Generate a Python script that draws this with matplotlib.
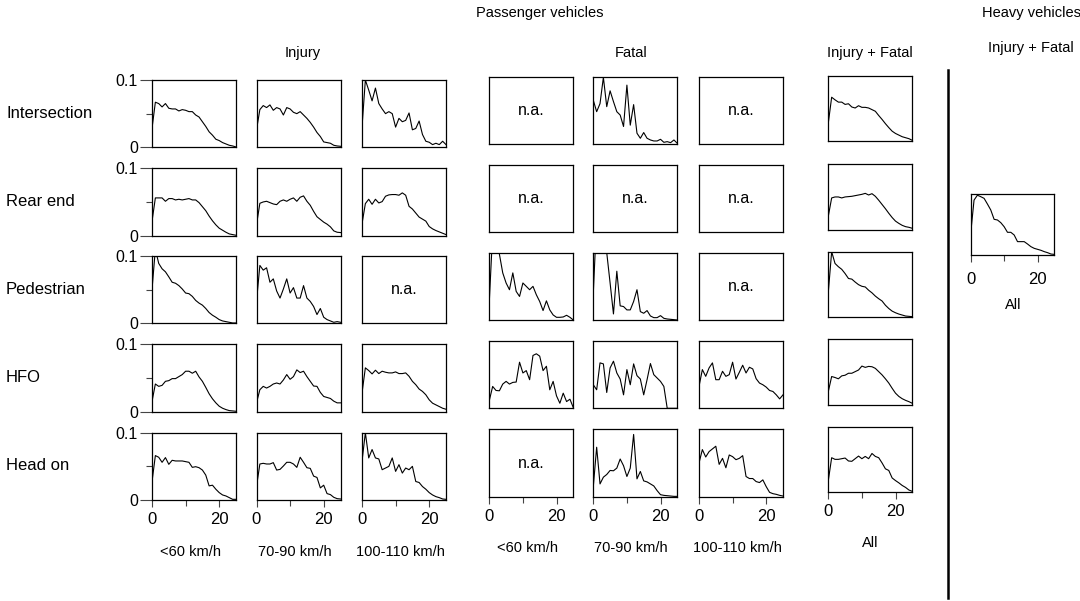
import numpy as np
import matplotlib
matplotlib.use('Agg')
import matplotlib.pyplot as plt
from matplotlib import rcParams
rcParams['font.family'] = ['Liberation Sans', 'DejaVu Sans']
rcParams['font.size'] = 10.5

# ---------------data (share per km/h bin, 0..25)
x = np.arange(26)
row_names = ['Intersection', 'Rear end', 'Pedestrian', 'HFO', 'Head on']

inj_lt60 = [
    [0.028, 0.067, 0.065, 0.060, 0.065, 0.058, 0.057, 0.057, 0.054, 0.056, 0.055, 0.053, 0.053,
     0.048, 0.045, 0.038, 0.031, 0.023, 0.018, 0.012, 0.010, 0.007, 0.005, 0.003, 0.002, 0.0005],
    [0.021, 0.056, 0.056, 0.056, 0.051, 0.055, 0.055, 0.053, 0.054, 0.053, 0.054, 0.055, 0.053,
     0.053, 0.049, 0.043, 0.037, 0.029, 0.022, 0.016, 0.011, 0.008, 0.005, 0.0025, 0.0015, 0.0005],
    [0.050, 0.110, 0.089, 0.081, 0.0765, 0.069, 0.061, 0.0595, 0.056, 0.051, 0.045, 0.044, 0.040,
     0.034, 0.030, 0.027, 0.022, 0.016, 0.012, 0.009, 0.0055, 0.0035, 0.0025, 0.0015, 0.0005, 0.0005],
    [0.015, 0.041, 0.0375, 0.039, 0.045, 0.046, 0.049, 0.049, 0.052, 0.055, 0.060, 0.060, 0.057,
     0.060, 0.0515, 0.045, 0.036, 0.0265, 0.019, 0.013, 0.008, 0.005, 0.003, 0.0015, 0.001, 0.0005],
    [0.027, 0.066, 0.0635, 0.056, 0.063, 0.053, 0.059, 0.058, 0.058, 0.058, 0.057, 0.056, 0.0485,
     0.0495, 0.048, 0.0445, 0.037, 0.021, 0.022, 0.016, 0.011, 0.0075, 0.006, 0.0035, 0.001, 0.001],
]
inj_7090 = [
    [0.026, 0.056, 0.062, 0.059, 0.063, 0.055, 0.059, 0.057, 0.048, 0.059, 0.057, 0.052, 0.050,
     0.053, 0.048, 0.043, 0.037, 0.030, 0.022, 0.016, 0.008, 0.007, 0.006, 0.003, 0.002, 0.0015],
    [0.016, 0.048, 0.050, 0.051, 0.049, 0.047, 0.046, 0.051, 0.053, 0.051, 0.054, 0.056, 0.051,
     0.057, 0.059, 0.051, 0.045, 0.036, 0.028, 0.024, 0.020, 0.017, 0.013, 0.007, 0.005, 0.0045],
    [0.0325, 0.086, 0.079, 0.0825, 0.061, 0.066, 0.048, 0.0375, 0.051, 0.066, 0.045, 0.053, 0.0375,
     0.0375, 0.056, 0.0375, 0.0325, 0.025, 0.013, 0.022, 0.009, 0.0055, 0.0035, 0.0015, 0.0025, 0.0015],
    [0.013, 0.0325, 0.0375, 0.035, 0.0375, 0.041, 0.0425, 0.041, 0.047, 0.055, 0.048, 0.052, 0.062,
     0.058, 0.060, 0.052, 0.045, 0.038, 0.0375, 0.0285, 0.0225, 0.021, 0.0195, 0.0155, 0.013, 0.013],
    [0.020, 0.0535, 0.0545, 0.0535, 0.0535, 0.0555, 0.0445, 0.0455, 0.0505, 0.056, 0.056, 0.0535, 0.0485,
     0.0635, 0.056, 0.048, 0.047, 0.0355, 0.0335, 0.018, 0.022, 0.0095, 0.008, 0.004, 0.002, 0.0015],
]
inj_100110 = [
    [0.030, 0.100, 0.085, 0.069, 0.088, 0.065, 0.057, 0.050, 0.053, 0.050, 0.030, 0.043, 0.038,
     0.040, 0.051, 0.026, 0.028, 0.039, 0.019, 0.009, 0.0075, 0.004, 0.006, 0.004, 0.009, 0.004],
    [0.0175, 0.0475, 0.054, 0.0465, 0.054, 0.0485, 0.0505, 0.0585, 0.0605, 0.061, 0.061, 0.060, 0.0635,
     0.060, 0.0435, 0.0395, 0.0335, 0.0275, 0.0245, 0.0215, 0.0135, 0.010, 0.0075, 0.0055, 0.0035, 0.0015],
    None,
    [0.0275, 0.065, 0.061, 0.056, 0.0615, 0.0565, 0.060, 0.0585, 0.0575, 0.0575, 0.059, 0.0565, 0.0565,
     0.0575, 0.0525, 0.045, 0.040, 0.0335, 0.030, 0.025, 0.0175, 0.0125, 0.010, 0.0075, 0.005, 0.0035],
    [0.0575, 0.100, 0.0625, 0.075, 0.0625, 0.061, 0.045, 0.0475, 0.050, 0.0625, 0.0425, 0.0525, 0.040,
     0.0475, 0.045, 0.050, 0.0275, 0.026, 0.020, 0.016, 0.011, 0.0075, 0.005, 0.0035, 0.0015, 0.001],
]
fat_lt60 = [
    None,
    None,
    [0.0275, 0.130, 0.120, 0.098, 0.070, 0.055, 0.045, 0.070, 0.0425, 0.035, 0.055, 0.050, 0.045,
     0.050, 0.0375, 0.0275, 0.014, 0.0285, 0.015, 0.0075, 0.004, 0.004, 0.0045, 0.007, 0.004, 0.0],
    [0.0115, 0.0325, 0.0265, 0.026, 0.036, 0.040, 0.036, 0.0385, 0.039, 0.0685, 0.0525, 0.056, 0.0425,
     0.0785, 0.081, 0.0775, 0.056, 0.0625, 0.0275, 0.040, 0.0185, 0.0075, 0.0225, 0.010, 0.0135, 0.001],
    None,
]
fat_7090 = [
    [0.065, 0.048, 0.060, 0.099, 0.0555, 0.079, 0.063, 0.048, 0.043, 0.026, 0.0875, 0.028, 0.0585,
     0.016, 0.0085, 0.017, 0.0085, 0.006, 0.0045, 0.0045, 0.007, 0.0025, 0.0035, 0.002, 0.006, 0.001],
    None,
    [0.040, 0.150, 0.140, 0.130, 0.100, 0.055, 0.009, 0.0725, 0.021, 0.020, 0.015, 0.015, 0.0275,
     0.045, 0.0125, 0.010, 0.014, 0.006, 0.0035, 0.0035, 0.0065, 0.0025, 0.0015, 0.001, 0.0005, 0.0],
    [0.035, 0.0275, 0.0675, 0.066, 0.0235, 0.060, 0.070, 0.0525, 0.0435, 0.020, 0.0575, 0.035, 0.066,
     0.0485, 0.0435, 0.020, 0.0425, 0.0665, 0.050, 0.045, 0.040, 0.0325, 0.0, 0.0, 0.0, 0.0],
    [0.015, 0.0735, 0.019, 0.029, 0.033, 0.039, 0.0385, 0.0425, 0.056, 0.046, 0.030, 0.0425, 0.0925,
     0.0265, 0.0375, 0.0235, 0.022, 0.019, 0.016, 0.009, 0.003, 0.002, 0.0015, 0.001, 0.0005, 0.0005],
]
fat_100110 = [
    None,
    None,
    None,
    [0.0325, 0.0575, 0.0475, 0.060, 0.0675, 0.0425, 0.0425, 0.055, 0.0475, 0.050, 0.0685, 0.0435, 0.0535,
     0.064, 0.0525, 0.061, 0.0585, 0.044, 0.0375, 0.035, 0.0315, 0.0265, 0.025, 0.020, 0.014, 0.020],
    [0.050, 0.070, 0.059, 0.067, 0.071, 0.075, 0.048, 0.057, 0.043, 0.062, 0.0595, 0.055, 0.057,
     0.061, 0.030, 0.027, 0.027, 0.0225, 0.021, 0.025, 0.015, 0.0065, 0.0045, 0.0035, 0.002, 0.001],
]
all_pv = [
    [0.028, 0.0675, 0.0635, 0.060, 0.060, 0.0565, 0.0575, 0.0525, 0.051, 0.0545, 0.052, 0.052, 0.051,
     0.0485, 0.046, 0.0395, 0.0335, 0.027, 0.021, 0.0155, 0.012, 0.0095, 0.007, 0.0055, 0.004, 0.0015],
    [0.0205, 0.0485, 0.050, 0.050, 0.0485, 0.050, 0.0505, 0.051, 0.052, 0.053, 0.054, 0.0555, 0.053,
     0.055, 0.051, 0.045, 0.0385, 0.032, 0.025, 0.0185, 0.013, 0.0095, 0.0065, 0.0045, 0.0035, 0.002],
    [0.038, 0.100, 0.082, 0.077, 0.073, 0.0665, 0.059, 0.058, 0.0535, 0.0495, 0.047, 0.046, 0.041,
     0.037, 0.032, 0.028, 0.0245, 0.018, 0.013, 0.009, 0.0065, 0.0045, 0.003, 0.0015, 0.001, 0.0005],
    [0.020, 0.043, 0.0415, 0.0395, 0.044, 0.045, 0.048, 0.048, 0.0505, 0.053, 0.059, 0.057, 0.0585,
     0.058, 0.0555, 0.0505, 0.0455, 0.0395, 0.033, 0.025, 0.0175, 0.0125, 0.009, 0.0065, 0.0045, 0.002],
    [0.0175, 0.0525, 0.050, 0.050, 0.051, 0.052, 0.0475, 0.047, 0.051, 0.055, 0.051, 0.0545, 0.051,
     0.059, 0.0545, 0.0525, 0.0445, 0.0355, 0.033, 0.0215, 0.0175, 0.014, 0.010, 0.007, 0.003, 0.001],
]
heavy_all = [0.0355, 0.090, 0.098, 0.0956, 0.0929, 0.0836, 0.0738, 0.0585, 0.0574, 0.053, 0.0464, 0.0372, 0.0372,
             0.0328, 0.0219, 0.0219, 0.0219, 0.018, 0.0137, 0.0109, 0.0093, 0.0077, 0.0055, 0.0038, 0.0016, 0.001]

speed_labels = ['<60 km/h', '70-90 km/h', '100-110 km/h']

# ---------------layout (pixels)
W, H = 1080, 601
fig = plt.figure(figsize=(W / 100, H / 100), dpi=100)


def box(l, t, w, h):
    return [l / W, 1 - (t + h) / H, w / W, h / H]


def ftext(px, py, s, **kw):
    fig.text(px / W, 1 - py / H, s, **kw)


def panel(l, t, w, h, ys, yaxis=False, xaxis=False, xpad=4):
    ax = fig.add_axes(box(l, t, w, h))
    ax.set_xlim(0, 25)
    ax.set_ylim(0, 0.1)
    if ys is None:
        ax.text(0.5, 0.5, 'n.a.', transform=ax.transAxes, ha='center', va='center', fontsize=11.5)
    else:
        ax.plot(x, ys, color='black', lw=0.8)
    for s in ax.spines.values():
        s.set_linewidth(0.9)
    if yaxis:
        ax.set_yticks([0, 0.1])
        ax.set_yticklabels(['0', '0.1'])
        ax.set_yticks([0.05], minor=True)
        ax.tick_params(axis='y', which='major', length=9, width=0.8, color='#444444', pad=1, labelsize=11.5)
        ax.tick_params(axis='y', which='minor', length=4, width=0.8, color='#444444')
    else:
        ax.set_yticks([])
    if xaxis:
        ax.set_xticks([0, 20])
        ax.set_xticks([10], minor=True)
        ax.tick_params(axis='x', which='major', length=5, width=0.8, color='#444444', pad=xpad, labelsize=12)
        ax.tick_params(axis='x', which='minor', length=4, width=0.8, color='#444444')
    else:
        ax.set_xticks([])
    return ax


inj_lefts = [152, 256.5, 362]
fat_lefts = [489.3, 593.3, 699]
pw = 84
inj_tops = [80, 168.3, 256, 344.3, 432.7]
fat_tops = [t - 3.3 for t in inj_tops]
all_tops = [76, 164.3, 251.7, 339.3, 426.7]

inj_cols = [inj_lt60, inj_7090, inj_100110]
fat_cols = [fat_lt60, fat_7090, fat_100110]

for r in range(5):
    last = r == 4
    for c in range(3):
        panel(inj_lefts[c], inj_tops[r], pw, 67.3, inj_cols[c][r], yaxis=(c == 0), xaxis=last)
        panel(fat_lefts[c], fat_tops[r], pw, 67.3, fat_cols[c][r], xaxis=last)
    panel(828.3, all_tops[r], pw, 65.3, all_pv[r], xaxis=last)
    ftext(6, inj_tops[r] + 33, row_names[r], ha='left', va='center', fontsize=12)

panel(970.7, 194, 83.6, 61, heavy_all, xaxis=True, xpad=7.5)

# column headings
ftext(540, 13, 'Passenger vehicles', ha='center', va='center')
ftext(1031, 13, 'Heavy vehicles', ha='center', va='center')
ftext(303, 53, 'Injury', ha='center', va='center')
ftext(631, 53, 'Fatal', ha='center', va='center')
ftext(870, 53, 'Injury + Fatal', ha='center', va='center')
ftext(1031, 48, 'Injury + Fatal', ha='center', va='center')

for c in range(3):
    ftext(inj_lefts[c] + pw / 2 - 4, 552, speed_labels[c], ha='center', va='center')
    ftext(fat_lefts[c] + pw / 2 - 4, 548, speed_labels[c], ha='center', va='center')
ftext(870, 543, 'All', ha='center', va='center')
ftext(1013, 305, 'All', ha='center', va='center')

# separator between passenger and heavy vehicles
fig.add_artist(plt.Line2D([948 / W, 948 / W], [1 - 70 / H, 1 - 598 / H], color='black', lw=1.8))

fig.savefig('out.png', dpi=100)
